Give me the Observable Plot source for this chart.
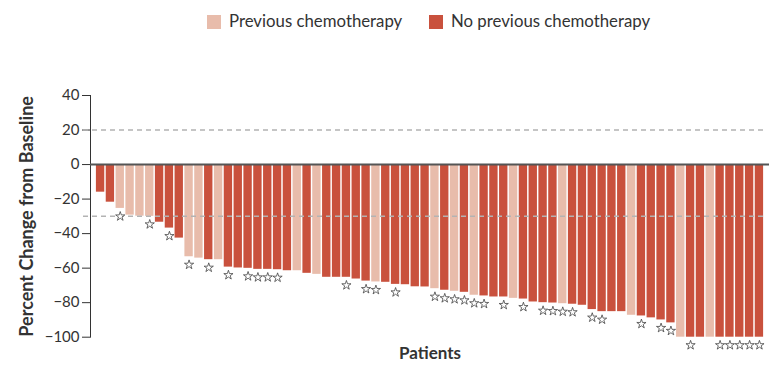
<!DOCTYPE html>
<html>
<head>
<meta charset="utf-8">
<script src="https://cdn.jsdelivr.net/npm/d3@7"></script>
<script src="https://cdn.jsdelivr.net/npm/@observablehq/plot@0.6"></script>
<style>
  html, body { margin: 0; padding: 0; background: #fff; }
  body { width: 779px; height: 374px; overflow: hidden; font-family: Lato, "Open Sans", sans-serif; }
  #legend { position: relative; height: 40px; color: #333; font-size: 16.8px; }
  #legend .sw { position: absolute; top: 15px; width: 14px; height: 14px; }
  #legend .lb { position: absolute; top: 10px; line-height: 22px; white-space: nowrap; }
  #chart svg { display: block; }
</style>
</head>
<body>
<div id="legend"></div>
<div id="chart"></div>
<script>
// ---- data ----
const groups = ["Previous chemotherapy", "No previous chemotherapy"];
const groupColors = ["#e8bcab", "#c9513d"];
const patients = d3.range(1, 69);
const changes = [
  -16.0, -21.8, -25.4, -29.3, -29.9, -30.0, -33.4, -36.8, -42.6, -53.4,
  -54.2, -55.1, -55.1, -59.4, -59.9, -60.1, -60.7, -60.7, -60.9, -61.5,
  -61.5, -63.0, -63.6, -65.3, -65.3, -65.3, -66.3, -67.5, -68.0, -68.2,
  -69.4, -69.6, -70.8, -70.9, -71.9, -72.8, -73.4, -74.0, -75.7, -76.1,
  -76.7, -76.7, -77.5, -77.9, -79.6, -80.0, -80.2, -80.6, -80.9, -81.5,
  -84.0, -85.2, -85.2, -85.2, -87.3, -87.7, -88.8, -90.0, -91.7, -100,
  -100, -100, -100, -100, -100, -100, -100, -100
];
// P = previous chemotherapy, N = no previous chemotherapy
const chemo = [
  "N","N","P","P","P","P","N","N","N","P",
  "P","N","P","N","N","N","N","N","N","N",
  "P","N","P","N","N","N","N","N","P","N",
  "N","N","N","N","P","N","P","N","P","N",
  "N","N","P","N","N","N","N","P","N","N",
  "N","N","N","N","P","N","N","N","N","P",
  "N","N","P","N","N","N","N","N"
];
// patients marked with a star
const starred = [3,6,8,10,12,14,16,17,18,19,26,28,29,31,35,36,37,38,39,40,42,44,46,47,48,49,51,52,56,58,59,61,64,65,66,67,68];
const yTicks = [40, 20, 0, -20, -40, -60, -80, -100];
const refLines = [20, -30];

const data = patients.map((p, i) => ({
  id: p,
  value: changes[i],
  group: chemo[i] === "P" ? groups[0] : groups[1],
  star: starred.includes(p)
}));

// ---- legend ----
const legend = document.getElementById("legend");
const legendPos = [[207, 229], [429, 451]];
groups.forEach((g, i) => {
  const sw = document.createElement("div");
  sw.className = "sw";
  sw.style.left = legendPos[i][0] + "px";
  sw.style.background = groupColors[i];
  const lb = document.createElement("div");
  lb.className = "lb";
  lb.style.left = legendPos[i][1] + "px";
  lb.textContent = g;
  legend.append(sw, lb);
});

// ---- chart ----
const fmt = d => d < 0 ? "\u2212" + Math.abs(d) : String(d);

const chart = Plot.plot({
  width: 779,
  height: 334,
  marginLeft: 90,
  marginRight: 10,
  marginTop: 55,
  marginBottom: 37.3,
  style: { fontFamily: "Lato, 'Open Sans', sans-serif", fontSize: "15px", color: "#333", background: "#fff" },
  x: { type: "band", domain: patients, paddingInner: 0.15, paddingOuter: 0.6, axis: null },
  y: {
    domain: [-100, 40],
    ticks: yTicks,
    tickFormat: fmt,
    tickSize: 8,
    tickPadding: 3,
    line: true,
    label: null
  },
  color: { domain: groups, range: groupColors },
  marks: [
    Plot.barY(data, { x: "id", y: "value", fill: "group" }),
    Plot.ruleY(refLines, { stroke: "#b3b3b3", strokeWidth: 1.5, strokeDasharray: "5,4", insetLeft: -7, insetRight: 2 }),
    Plot.ruleY([0], { stroke: "#555", strokeWidth: 2 }),
    Plot.dot(data.filter(d => d.star), { x: "id", y: "value", dy: 8, symbol: "star", r: 2.9, fill: "white", stroke: "#444", strokeWidth: 0.8 }),
    Plot.text(["Patients"], { frameAnchor: "bottom", dy: 16, lineAnchor: "middle", fontWeight: "bold", fontSize: 17, fill: "#333" }),
    Plot.text(["Percent Change from Baseline"], { frameAnchor: "left", dx: -63, rotate: -90, lineAnchor: "middle", textAnchor: "middle", fontWeight: "bold", fontSize: 18, fill: "#333" })
  ]
});
document.getElementById("chart").append(chart);
</script>
</body>
</html>
